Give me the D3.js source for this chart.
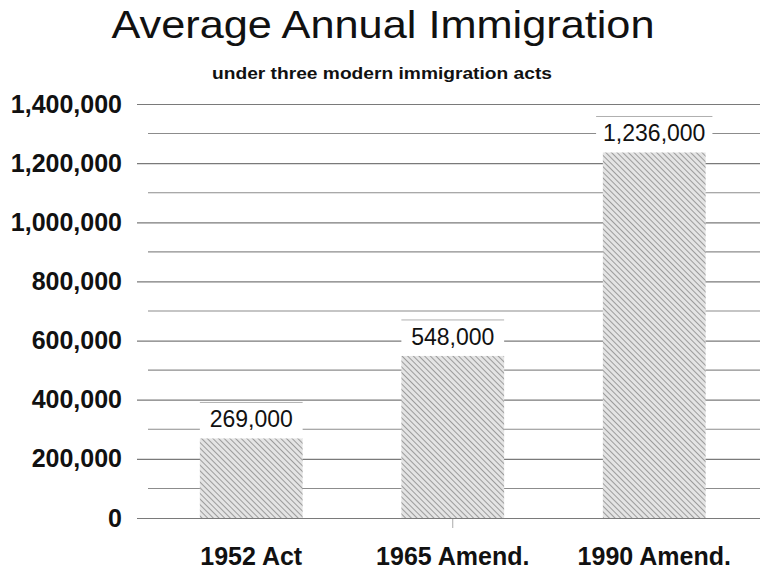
<!DOCTYPE html>
<html lang="en">
<head>
<meta charset="UTF-8">
<title>Average Annual Immigration</title>
<script src="https://d3js.org/d3.v7.min.js"></script>
<style>
  body { margin: 0; background: #fff; font-family: "Liberation Sans", Arial, sans-serif; }
  svg { display: block; }
</style>
</head>
<body>
<div id="chart"></div>
<script>
// data
const acts = ["1952 Act", "1965 Amend.", "1990 Amend."];
const avgImmigrants = [269000, 548000, 1236000];
const yTicks = [0, 200000, 400000, 600000, 800000, 1000000, 1200000, 1400000];
const minorTicks = [100000, 300000, 500000, 700000, 900000, 1100000, 1300000];

const width = 767, height = 571;
const svg = d3.select("#chart").append("svg")
    .attr("width", width)
    .attr("height", height);

// hatch for bars
const defs = svg.append("defs");
const pat = defs.append("pattern")
    .attr("id", "hatch")
    .attr("patternUnits", "userSpaceOnUse")
    .attr("width", 4).attr("height", 4)
    .attr("patternTransform", "rotate(-45)");
pat.append("rect").attr("width", 4).attr("height", 4).attr("fill", "#e4e4e4");
pat.append("line").attr("x1", 0).attr("y1", 0).attr("x2", 0).attr("y2", 4)
    .attr("stroke", "#8a8a8a").attr("stroke-width", 1.6);

const y = d3.scaleLinear().domain([0, 1400000]).range([518, 104]);
const x = d3.scaleBand().domain(acts).range([150.5, 755])
    .paddingInner(0.49).paddingOuter(0.245);

// titles (source type is a bit wider than Arial, so stretch to fit)
svg.append("text")
    .attr("x", 383).attr("y", 38)
    .attr("text-anchor", "middle")
    .attr("font-size", 39)
    .attr("fill", "#111")
    .attr("textLength", 543)
    .attr("lengthAdjust", "spacingAndGlyphs")
    .text("Average Annual Immigration");

svg.append("text")
    .attr("x", 382).attr("y", 79)
    .attr("text-anchor", "middle")
    .attr("font-size", 17)
    .attr("font-weight", "bold")
    .attr("fill", "#111")
    .attr("textLength", 340)
    .attr("lengthAdjust", "spacingAndGlyphs")
    .text("under three modern immigration acts");

// gridlines
svg.append("g").selectAll("line")
    .data(minorTicks)
    .join("line")
    .attr("x1", 148).attr("x2", 760)
    .attr("y1", d => y(d)).attr("y2", d => y(d))
    .attr("stroke", "#8c8c8c").attr("stroke-width", 1.1);

const yAxis = d3.axisLeft(y)
    .tickValues(yTicks)
    .tickFormat(d3.format(","))
    .tickSize(-(760 - 137))
    .tickPadding(15);

const ga = svg.append("g")
    .attr("transform", "translate(137,0)")
    .call(yAxis);
ga.select(".domain").remove();
ga.selectAll(".tick line").attr("stroke", "#7a7a7a").attr("stroke-width", 1.2);
ga.selectAll(".tick text")
    .attr("font-family", "Liberation Sans, Arial, sans-serif")
    .attr("font-size", 25)
    .attr("font-weight", "bold")
    .attr("fill", "#111");

// bars
svg.append("g").selectAll("rect")
    .data(avgImmigrants)
    .join("rect")
    .attr("x", (d, i) => x(acts[i]))
    .attr("y", d => y(d))
    .attr("width", x.bandwidth())
    .attr("height", d => y(0) - y(d))
    .attr("fill", "url(#hatch)");

// value labels with white boxes
const lab = svg.append("g").selectAll("g")
    .data(avgImmigrants)
    .join("g");
const labText = lab.append("text")
    .attr("x", (d, i) => x(acts[i]) + x.bandwidth() / 2)
    .attr("y", d => y(d) - 11)
    .attr("text-anchor", "middle")
    .attr("font-size", 23)
    .attr("fill", "#111")
    .text(d => d3.format(",")(d));
labText.each(function(d, i) {
    const w = this.getComputedTextLength();
    const bw = Math.max(x.bandwidth(), w + 14);
    const cx = x(acts[i]) + x.bandwidth() / 2;
    d3.select(this.parentNode).insert("rect", "text")
        .attr("x", cx - bw / 2)
        .attr("y", y(d) - 36)
        .attr("width", bw)
        .attr("height", 34)
        .attr("fill", "#fff");
    d3.select(this.parentNode).insert("line", "text")
        .attr("x1", cx - bw / 2).attr("x2", cx + bw / 2)
        .attr("y1", y(d) - 36).attr("y2", y(d) - 36)
        .attr("stroke", "#b0b0b0").attr("stroke-width", 1);
});

// category labels
svg.append("g").selectAll("text")
    .data(acts)
    .join("text")
    .attr("x", d => x(d) + x.bandwidth() / 2)
    .attr("y", 565)
    .attr("text-anchor", "middle")
    .attr("font-size", 25)
    .attr("font-weight", "bold")
    .attr("fill", "#111")
    .text(d => d);

// faint tick under middle category
svg.append("line")
    .attr("x1", x(acts[1]) + x.bandwidth() / 2).attr("x2", x(acts[1]) + x.bandwidth() / 2)
    .attr("y1", 519).attr("y2", 528)
    .attr("stroke", "#aaa");
</script>
</body>
</html>
